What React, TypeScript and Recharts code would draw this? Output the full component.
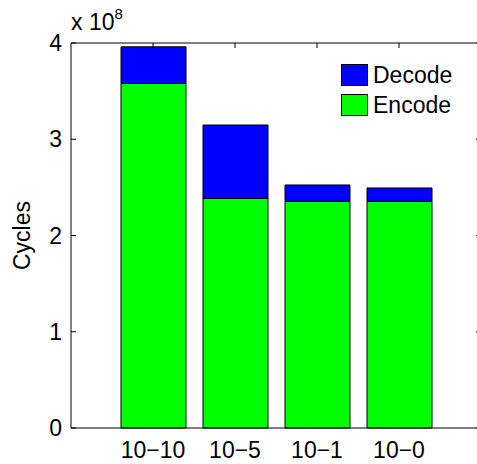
import { BarChart, Bar, XAxis, YAxis, Legend, Label } from "recharts";

const FONT = "'Liberation Sans', Arial, Helvetica, sans-serif";

const categories = ["10−10", "10−5", "10−1", "10−0"];
const encodeCycles = [3.58e8, 2.386e8, 2.355e8, 2.355e8];
const decodeCycles = [0.38e8, 0.762e8, 0.17e8, 0.139e8];
const yTicks = [0, 1e8, 2e8, 3e8, 4e8];
const legendOrder = ["Decode", "Encode"];

const Y_MAX = 4e8;
const CHART_W = 481;
const CHART_H = 464;
const MARGIN_TOP = 43;
const YAXIS_W = 71;
const XAXIS_H = 36;
const PLOT_W = CHART_W - YAXIS_W;
const TICK = 5;

const data = categories.map((name, i) => ({
  name,
  encode: encodeCycles[i],
  decode: decodeCycles[i],
}));

// left ticks point inward; the same pass draws the mirrored right ticks
// and the top edge of the MATLAB-style box
const LeftTick = (p: any) => (
  <g>
    <line x1={p.x} x2={p.x + TICK} y1={p.y} y2={p.y} stroke="#000" />
    <line x1={p.x + PLOT_W - TICK} x2={p.x + PLOT_W} y1={p.y} y2={p.y} stroke="#000" />
    {p.payload.value === Y_MAX && <line x1={p.x} x2={p.x + PLOT_W} y1={p.y} y2={p.y} stroke="#000" />}
    <text x={p.x - 9} y={p.y} dy="0.355em" textAnchor="end" fontSize={23} fontFamily={FONT} fill="#000">
      {p.payload.value / 1e8}
    </text>
  </g>
);

// category labels below, plus inward tick on the top edge
const BottomTick = (p: any) => (
  <g>
    <line x1={p.x} x2={p.x} y1={MARGIN_TOP} y2={MARGIN_TOP + TICK} stroke="#000" />
    <text x={p.x} y={p.y + 14} dy="0.71em" textAnchor="middle" fontSize={23} fontFamily={FONT} fill="#000">
      {p.payload.value}
    </text>
  </g>
);

const renderLegend = (props: any) => {
  const items = [...(props.payload || [])]
    .filter((it: any) => legendOrder.includes(it.value))
    .sort((a: any, b: any) => legendOrder.indexOf(a.value) - legendOrder.indexOf(b.value));
  return (
    <div style={{ fontFamily: FONT, fontSize: 23, color: "#000" }}>
      {items.map((it: any) => (
        <div key={it.value} style={{ display: "flex", alignItems: "center", height: 30 }}>
          <div style={{ width: 25, height: 20, border: "1px solid #000", background: it.color, marginRight: 5 }} />
          <span>{it.value}</span>
        </div>
      ))}
    </div>
  );
};

export default function App() {
  return (
    <div style={{ position: "absolute", left: 0, top: 0, width: 477, height: 464, overflow: "hidden", background: "#fff" }}>
      <BarChart width={CHART_W} height={CHART_H} data={data} margin={{ top: MARGIN_TOP, right: 0, left: 0, bottom: 0 }}>
        <XAxis
          dataKey="name"
          height={XAXIS_H}
          padding={{ left: 41, right: 41 }}
          axisLine={{ stroke: "#000" }}
          tickLine={false}
          tickSize={0}
          tickMargin={0}
          tick={BottomTick}
          interval={0}
        />
        <YAxis
          width={YAXIS_W}
          domain={[0, Y_MAX]}
          ticks={yTicks}
          axisLine={{ stroke: "#000" }}
          tickLine={false}
          tickSize={0}
          tickMargin={0}
          tick={LeftTick}
          interval={0}
        >
          <Label
            content={(props: any) => {
              const vb = props.viewBox;
              if (!vb) return null;
              return (
                <text
                  transform={`translate(${vb.x + 30}, ${vb.y + vb.height / 2}) rotate(-90)`}
                  textAnchor="middle"
                  fontSize={23}
                  fontFamily={FONT}
                  fill="#000"
                >
                  Cycles
                </text>
              );
            }}
          />
          <Label
            content={(props: any) => {
              const vb = props.viewBox;
              if (!vb) return null;
              return (
                <text x={vb.x + vb.width} y={vb.y - 13} fontSize={23} fontFamily={FONT} fill="#000">
                  x 10
                  <tspan fontSize={15} dy={-11}>8</tspan>
                </text>
              );
            }}
          />
        </YAxis>
        <Legend
          layout="horizontal"
          verticalAlign="middle"
          align="center"
          content={renderLegend}
          wrapperStyle={{ left: 341, top: 60, width: "auto" }}
        />
        <Bar dataKey="encode" name="Encode" stackId="a" fill="#00ff00" stroke="#000" barSize={65} isAnimationActive={false} />
        <Bar dataKey="decode" name="Decode" stackId="a" fill="#0000ff" stroke="#000" barSize={65} isAnimationActive={false} />
      </BarChart>
    </div>
  );
}
